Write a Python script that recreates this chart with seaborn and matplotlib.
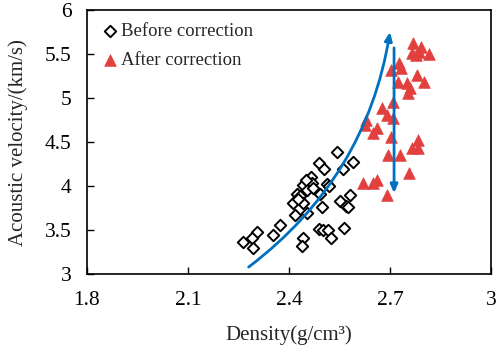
import matplotlib as mpl
import matplotlib.pyplot as plt
import seaborn as sns
import numpy as np
import pandas as pd

# before correction (open diamonds)
before_density = [2.542, 2.489, 2.504, 2.590, 2.560, 2.465, 2.442, 2.468, 2.453, 2.424,
                  2.433, 2.412, 2.442, 2.492, 2.513, 2.519, 2.498, 2.453, 2.418, 2.551,
                  2.581, 2.569, 2.575, 2.489, 2.501, 2.516, 2.525, 2.563, 2.442, 2.439,
                  2.373, 2.352, 2.305, 2.290, 2.263, 2.293, 2.427, 2.450, 2.470]
before_velocity = [4.39, 4.26, 4.19, 4.27, 4.19, 4.10, 4.01, 4.03, 3.95, 3.91,
                   3.89, 3.81, 3.81, 3.91, 4.02, 4.00, 3.76, 3.69, 3.67, 3.83,
                   3.90, 3.77, 3.76, 3.51, 3.50, 3.50, 3.41, 3.52, 3.41, 3.32,
                   3.56, 3.45, 3.48, 3.41, 3.36, 3.30, 3.85, 4.07, 3.98]

# after correction (red triangles)
after_density = [2.768, 2.792, 2.765, 2.777, 2.786, 2.816, 2.727, 2.703, 2.733, 2.780,
                 2.800, 2.724, 2.750, 2.760, 2.753, 2.709, 2.676, 2.691, 2.709, 2.629,
                 2.626, 2.661, 2.650, 2.703, 2.783, 2.765, 2.783, 2.694, 2.730, 2.756,
                 2.620, 2.650, 2.661, 2.691]
after_velocity = [5.62, 5.58, 5.51, 5.49, 5.52, 5.50, 5.40, 5.32, 5.34, 5.26,
                  5.18, 5.18, 5.17, 5.11, 5.06, 4.95, 4.89, 4.81, 4.77, 4.75,
                  4.69, 4.66, 4.60, 4.56, 4.52, 4.43, 4.43, 4.35, 4.35, 4.15,
                  4.03, 4.03, 4.07, 3.90]

# trend arrow ends
trend_start = (2.28, 3.08)
trend_end = (2.70, 5.75)
shift_top = (2.712, 5.57)
shift_bottom = (2.712, 3.92)

blue = "#0070C0"
red = "#E2403E"

df = pd.DataFrame({
    "density": before_density + after_density,
    "velocity": before_velocity + after_velocity,
    "kind": ["Before correction"] * len(before_density) + ["After correction"] * len(after_density),
})

sns.set_style("white")
plt.rcParams['font.family'] = ['Liberation Serif', 'DejaVu Serif']

fig = plt.figure(figsize=(4.98, 3.51), dpi=100)
ax = fig.add_axes([0.1747, 0.219, 0.8113, 0.7525])

sns.scatterplot(data=df[df.kind == "Before correction"], x="density", y="velocity",
                marker="D", s=34, facecolor="white", edgecolor="black", linewidth=1.4,
                label="Before correction", ax=ax, zorder=3)
sns.scatterplot(data=df[df.kind == "After correction"], x="density", y="velocity",
                marker="^", s=70, color=red, edgecolor=red, linewidth=0.5,
                label="After correction", ax=ax, zorder=3)

ax.annotate("", xy=trend_end, xytext=trend_start,
            arrowprops=dict(arrowstyle="-|>,head_length=0.5,head_width=0.22", color=blue, lw=2,
                            connectionstyle="arc3,rad=0.2", shrinkA=0, shrinkB=0), zorder=4)
ax.annotate("", xy=shift_bottom, xytext=shift_top,
            arrowprops=dict(arrowstyle="-|>,head_length=0.5,head_width=0.22", color=blue, lw=2,
                            shrinkA=0, shrinkB=0), zorder=4)

ax.set_xlim(1.8, 3.0)
ax.set_ylim(3.0, 6.0)
ax.set_xticks([1.8, 2.1, 2.4, 2.7, 3.0])
ax.set_xticklabels(["1.8", "2.1", "2.4", "2.7", "3"])
ax.set_yticks([3, 3.5, 4, 4.5, 5, 5.5, 6])
ax.set_yticklabels(["3", "3.5", "4", "4.5", "5", "5.5", "6"])
ax.tick_params(direction="in", length=5, width=1, labelsize=15.5, colors="black",
               bottom=True, left=True)
ax.tick_params(axis="x", pad=12)
ax.tick_params(axis="y", pad=11)
for sp in ax.spines.values():
    sp.set_color("black")
    sp.set_linewidth(1.2)

ax.set_xlabel("Density(g/cm³)", fontsize=15, labelpad=11)
ax.set_ylabel("Acoustic velocity/(km/s)", fontsize=15, labelpad=12)

ax.legend(loc="upper left", frameon=False, fontsize=13.5, handletextpad=0.1,
          handlelength=1.0, borderaxespad=0.3, labelspacing=0.6)

fig.savefig("out.png", dpi=100)
